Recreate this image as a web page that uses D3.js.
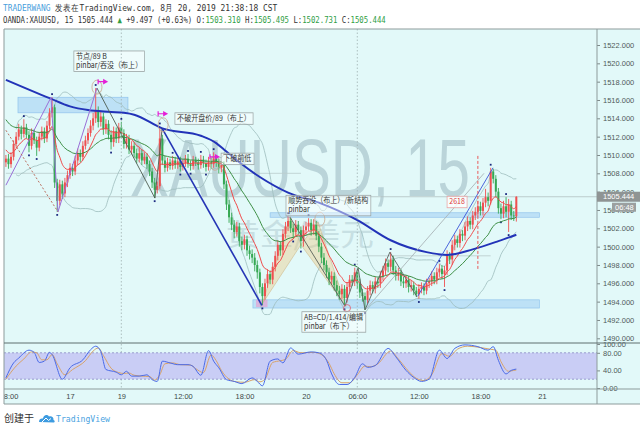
<!DOCTYPE html>
<html><head><meta charset="utf-8">
<script src="https://cdn.jsdelivr.net/npm/d3@7"></script>
<style>body{margin:0;background:#fff}svg{display:block}</style>
</head><body>
<svg id="c" width="640" height="431"></svg>
<script>
// ---------------- DATA ----------------
const firstOpen = 1509.2;
const closes = [
1509.6,1509.0,1509.8,1511.2,1512.0,1512.8,1512.3,1513.0,1512.2,1511.0,
1512.4,1511.6,1510.8,1512.0,1512.6,1511.8,1513.2,1514.6,1515.2,1507.0,
1505.0,1506.8,1505.8,1507.0,1507.8,1508.6,1508.2,1509.4,1510.2,1509.8,
1511.0,1511.6,1512.4,1513.2,1514.0,1514.8,1513.6,1514.2,1512.8,1513.4,
1512.2,1511.4,1512.6,1511.8,1513.0,1512.4,1511.2,1511.8,1510.6,1511.0,
1510.2,1509.6,1510.2,1509.4,1509.8,1509.0,1508.2,1507.0,1506.2,1506.6,
1511.8,1509.4,1508.6,1509.2,1508.8,1509.4,1508.9,1509.3,1508.7,1509.1,
1509.6,1509.0,1508.8,1509.4,1509.2,1508.9,1509.5,1509.1,1508.7,1509.3,
1509.0,1509.6,1509.2,1508.6,1508.9,1506.8,1504.6,1503.2,1502.4,1501.6,
1502.2,1500.6,1500.2,1500.8,1499.6,1499.2,1498.8,1498.0,1497.2,1495.6,
1494.6,1496.0,1497.0,1496.4,1497.8,1499.0,1500.2,1499.6,1501.4,1502.2,
1502.8,1502.0,1501.6,1502.4,1501.8,1500.6,1501.8,1502.2,1502.6,1501.8,
1502.4,1501.2,1500.0,1498.8,1498.0,1497.2,1496.4,1496.8,1495.8,1495.2,
1494.8,1495.4,1494.4,1495.6,1496.4,1496.2,1497.2,1496.0,1495.0,1494.6,
1494.2,1495.2,1495.8,1495.4,1496.2,1496.0,1496.8,1497.4,1498.2,1497.8,
1498.6,1497.4,1496.8,1497.2,1496.2,1496.0,1496.4,1495.6,1495.8,1495.2,
1494.8,1495.4,1495.6,1495.2,1496.0,1496.2,1496.8,1496.4,1497.2,1497.6,
1497.0,1497.4,1499.0,1498.6,1500.2,1500.8,1500.4,1501.4,1501.2,1502.2,
1502.8,1502.4,1503.4,1503.8,1504.4,1503.9,1504.8,1505.4,1505.0,1508.2,
1507.4,1506.0,1504.2,1503.6,1504.4,1503.8,1504.6,1503.4,1503.31,1505.444];
const highs = [
1510.0,1510.1,1510.3,1511.6,1512.5,1513.4,1513.2,1513.9,1513.4,1512.6,
1512.9,1512.8,1512.0,1512.5,1513.1,1513.0,1513.7,1515.1,1516.3,1515.5,
1507.4,1507.3,1507.2,1507.5,1508.3,1509.1,1509.0,1509.9,1510.7,1510.6,
1511.5,1512.1,1512.9,1513.8,1514.6,1517.3,1515.3,1514.8,1514.6,1513.9,
1513.8,1512.7,1513.1,1513.0,1513.5,1513.6,1512.8,1512.3,1512.2,1511.5,
1511.4,1510.7,1510.8,1510.6,1510.3,1510.2,1509.4,1508.6,1507.5,1507.1,
1513.1,1512.2,1509.9,1509.7,1509.6,1509.9,1509.8,1509.7,1509.8,1509.5,
1510.0,1510.1,1509.4,1509.9,1509.8,1509.6,1510.0,1509.9,1509.5,1509.8,
1509.7,1510.3,1510.0,1509.6,1509.3,1509.3,1507.2,1505.1,1503.7,1502.9,
1502.7,1502.6,1501.1,1501.3,1501.2,1500.1,1499.7,1499.3,1498.5,1497.6,
1496.0,1496.5,1497.5,1497.4,1498.3,1499.5,1500.7,1500.6,1501.9,1502.7,
1503.3,1503.1,1502.5,1502.9,1502.8,1502.2,1502.3,1502.7,1503.1,1503.0,
1503.0,1502.8,1501.7,1500.4,1499.3,1498.5,1497.7,1497.3,1497.2,1496.3,
1495.7,1495.9,1495.8,1496.1,1496.9,1496.9,1497.7,1497.6,1496.5,1495.4,
1495.0,1495.7,1496.3,1496.2,1496.7,1496.6,1497.3,1497.9,1498.7,1498.6,
1499.4,1499.0,1497.9,1497.7,1497.6,1496.7,1496.9,1496.8,1496.3,1496.2,
1495.6,1495.9,1496.1,1496.0,1496.5,1496.6,1497.3,1497.2,1497.7,1498.1,
1498.0,1497.9,1499.6,1499.4,1500.7,1501.3,1501.2,1501.9,1501.8,1502.7,
1503.3,1503.2,1503.9,1504.3,1505.0,1504.9,1505.3,1506.3,1505.9,1508.6,
1508.5,1507.8,1506.4,1504.7,1505.0,1505.4,1505.2,1505.0,1503.9,1505.495];
const lows = [
1508.7,1508.5,1508.6,1509.4,1510.8,1511.6,1511.7,1511.9,1511.8,1510.3,
1510.6,1511.2,1509.9,1510.4,1511.6,1511.3,1511.4,1512.8,1514.1,1506.4,
1503.8,1504.5,1505.2,1505.4,1506.5,1507.4,1507.7,1507.8,1508.9,1509.2,
1509.4,1510.6,1511.2,1512.0,1512.7,1513.5,1513.0,1513.1,1512.2,1512.3,
1511.7,1510.6,1510.9,1511.3,1511.3,1511.9,1510.7,1510.7,1510.1,1510.1,
1509.7,1509.1,1509.2,1508.9,1509.0,1508.5,1507.7,1506.4,1505.3,1505.8,
1506.3,1508.9,1508.1,1508.2,1508.4,1508.4,1508.5,1508.5,1508.2,1508.3,
1508.7,1508.6,1508.3,1508.4,1508.8,1508.4,1508.5,1508.6,1508.2,1508.3,
1508.5,1508.6,1508.7,1508.0,1508.1,1506.3,1504.0,1502.6,1501.8,1500.9,
1501.1,1500.0,1499.6,1499.7,1499.0,1498.6,1498.2,1497.3,1496.5,1494.9,
1493.6,1494.2,1495.5,1495.9,1495.9,1497.3,1498.5,1499.0,1499.1,1500.9,
1501.7,1501.5,1500.9,1501.1,1501.3,1499.8,1500.0,1501.2,1501.7,1501.2,
1501.3,1500.7,1499.4,1498.2,1497.4,1496.6,1495.8,1495.9,1495.2,1494.6,
1494.2,1494.3,1493.5,1493.9,1495.1,1495.7,1495.7,1495.4,1494.4,1494.0,
1493.1,1493.8,1494.7,1494.9,1494.9,1495.5,1495.5,1496.3,1496.9,1497.2,
1497.3,1496.9,1496.3,1496.3,1495.7,1495.5,1495.5,1495.0,1495.1,1494.7,
1494.5,1494.3,1494.9,1494.7,1494.8,1495.5,1495.7,1495.9,1495.9,1496.7,
1496.5,1495.6,1496.9,1498.1,1498.0,1499.6,1499.9,1499.9,1500.6,1500.7,
1501.7,1501.9,1501.9,1502.9,1503.3,1503.4,1503.4,1504.3,1504.4,1504.6,
1506.9,1505.4,1503.6,1503.0,1503.1,1503.2,1501.6,1502.9,1502.8,1502.731];

// slow moving average (89) read at bar positions [bar, price]
const ma89 = [[0,1518.2],[17,1516.2],[25,1515.3],[32,1514.9],[41,1514.7],[46,1514.6],[50,1514.4],
[61,1512.9],[76,1512.1],[82,1511.3],[85,1510.6],[91,1509.2],[99,1507.6],[110,1505.9],[122,1504.8],
[137,1502.9],[150,1500.7],[164,1499.4],[172,1499.1],[182,1499.7],[192,1500.6],[199,1501.3]];
const redSeed = 1510.8, greenSeed = 1514.2;

// Stoch RSI K / D  [bar, value]
const stochK = [[0,23],[3,57],[5,68],[9,86],[11,81],[13,58],[15,61],[17,81],[18,76],[22,20],[25,46],[30,64],
[33,87],[35,95],[37,83],[39,42],[43,36],[45,30],[47,38],[49,27],[52,27],[55,30],[57,19],[59,15],[61,61],
[64,57],[67,53],[71,53],[73,49],[76,29],[79,85],[81,61],[83,46],[86,19],[89,15],[92,10],[96,23],[98,15],
[100,5],[103,61],[106,66],[108,57],[111,91],[114,77],[119,82],[122,80],[125,63],[127,32],[130,8],[133,8],
[136,24],[139,55],[141,47],[144,51],[149,90],[152,71],[156,40],[159,24],[162,15],[165,20],[169,86],
[172,67],[175,90],[179,98],[184,94],[188,86],[190,94],[192,63],[195,32],[197,40],[199,43]];
const stochD = [[0,20],[4,50],[7,66],[10,82],[12,80],[14,64],[16,64],[18,76],[20,55],[23,30],[26,42],
[31,62],[34,84],[36,91],[38,74],[41,45],[44,35],[46,33],[48,34],[50,29],[53,27],[56,26],[58,18],[60,30],
[62,55],[65,57],[68,53],[72,52],[74,44],[77,35],[80,75],[82,62],[84,40],[87,20],[90,14],[93,13],[97,19],
[99,14],[101,20],[104,58],[107,62],[109,65],[112,85],[115,80],[120,81],[123,76],[126,56],[128,32],[131,12],
[134,12],[137,30],[140,50],[142,48],[145,55],[150,84],[153,66],[157,38],[160,22],[163,17],[166,30],[170,78],
[173,72],[176,88],[180,95],[185,92],[189,88],[191,86],[193,60],[196,38],[198,40],[199,41]];

const priceTicks = [1490,1492,1494,1496,1498,1500,1502,1504,1506,1508,1510,1512,1514,1516,1518,1520,1522];
const rsiTicks = [0,40,80,100];
const timeTicks = [1,25,45,69,93,117,137,161,185,209];
const timeLabels = ["18:00","17","19","12:00","18:00","20","06:00","12:00","18:00","21"];
const sessionBreaks = [45,137];
const lastPrice = 1505.444;

// user drawings, in [bar, price]
const zones = [[4.7,47.6,1516.3,1514.6],[103,208,1503.7,1503.2],[96.3,208,1494.2,1493.3]];
const pinkZone = [97.5,102,1494.2,1493.4];
const trendBlue = [[60.9,1512.9],[99.8,1493.6]];
const trendBlue2 = [[160.6,1494.6],[189.9,1508.6]];
const trendGray = [[140.4,1493.2],[186.4,1508.0]];
const purplePath = [[0,1506.7],[17.6,1516.3],[20.3,1503.8],[35.5,1517.3]];
const dashedBrown = [[0,1512.7],[20.3,1503.8]];
const darkPath = [[35.5,1517.3],[58.1,1505.3],[60.9,1512.9]];
const zigzag = [[110.8,1503.2],[132.2,1493.5],[137.3,1497.7],[140,1493.1],[149.7,1499.4],[160.3,1494.5]];
const tanTri = [[[99.8,1493.7],[110.8,1503.3],[115,1500.2]],[[115,1500.2],[121.7,1502.7],[132.6,1493.5]]];
const ellipses = [[35.5,1517.4],[61.3,1513.3],[81.5,1509.1],[122.4,1503.0]];
const pinkCircles = [[133,1493.3]];
const arrows = [[37.9,1518.0],[61.3,1514.5],[81.5,1509.8]];
const redVLine = [184,1509.9,1497.5];
const hLines = [[139,189,1499.0],[0,115,1508.0]];
const notes = [
 {b:26.5,p:1521.35,lines:["节点/89  B","pinbar/吞没（布上）"]},
 {b:65.9,p:1514.6,lines:["不破开盘价/89（布上）"]},
 {b:83.9,p:1510.2,lines:["下破前低"]},
 {b:109.2,p:1505.6,lines:["顺势吞没（布上）/新结构","pinbar"]},
 {b:115.4,p:1492.9,lines:["AB=CD/1.414/编辑","pinbar（布下）"]},
 {b:172,p:1505.5,lines:["2618"],red:true}];

// ---------------- LAYOUT ----------------
const svg = d3.select("#c");
const P = {l:4, r:597, t:29, b:343, rb:389, ab:404};
const BG = "#e2f9f9";
const x = d3.scaleLinear().domain([0,199]).range([5.9, 5.9+199*2.565]);
const y = d3.scaleLinear().domain([1490,1522]).range([338.3,45]);
const yr = d3.scaleLinear().domain([0,100]).range([388,344]);

svg.append("rect").attr("width",640).attr("height",431).attr("fill","#fff");
svg.append("rect").attr("x",P.l).attr("y",P.t).attr("width",640-P.l).attr("height",P.ab-P.t).attr("fill",BG);

const defs = svg.append("defs");
defs.append("clipPath").attr("id","cm").append("rect").attr("x",P.l).attr("y",P.t).attr("width",P.r-P.l).attr("height",P.b-P.t);
defs.append("clipPath").attr("id","cr").append("rect").attr("x",P.l).attr("y",P.b).attr("width",P.r-P.l).attr("height",P.rb-P.b);
defs.append("clipPath").attr("id","ct").append("rect").attr("x",P.l).attr("y",P.rb).attr("width",P.r-P.l).attr("height",P.ab-P.rb);

const g = svg.append("g").attr("clip-path","url(#cm)");

// watermark
g.append("text").attr("x",130).attr("y",196).attr("font-family","Liberation Sans, Arial, sans-serif")
 .attr("font-size",81).attr("textLength",340).attr("lengthAdjust","spacingAndGlyphs")
 .attr("fill","#bad4d9").text("XAUUSD, 15");
g.append("text").attr("x",226).attr("y",245).attr("font-family","Noto Sans CJK SC, sans-serif")
 .attr("font-size",30).attr("textLength",148).attr("lengthAdjust","spacingAndGlyphs")
 .attr("fill","#c7e0e3").text("黄金/美元");

// session breaks
sessionBreaks.forEach(b=>{
  svg.append("line").attr("x1",x(b)).attr("x2",x(b)).attr("y1",P.t).attr("y2",P.rb)
   .attr("stroke","#9fb0b0").attr("stroke-dasharray","1.5,2").attr("stroke-width",0.8);
});
// horizontal faint lines
hLines.forEach(h=>{
  g.append("line").attr("x1",x(h[0])).attr("x2",x(h[1])).attr("y1",y(h[2])).attr("y2",y(h[2]))
   .attr("stroke","#b9cccc").attr("stroke-width",0.8);
});
g.append("line").attr("x1",P.l).attr("x2",P.r).attr("y1",y(lastPrice)).attr("y2",y(lastPrice))
 .attr("stroke","#b3c2c2").attr("stroke-width",0.8);

// zones
zones.forEach(z=>{
  g.append("rect").attr("x",x(z[0])).attr("width",x(z[1])-x(z[0]))
   .attr("y",y(z[2])).attr("height",y(z[3])-y(z[2]))
   .attr("fill","rgba(120,180,240,0.35)").attr("stroke","rgba(100,165,230,0.55)").attr("stroke-width",0.7);
});
g.append("rect").attr("x",x(pinkZone[0])).attr("width",x(pinkZone[1])-x(pinkZone[0]))
 .attr("y",y(pinkZone[2])).attr("height",y(pinkZone[3])-y(pinkZone[2])).attr("fill","rgba(235,150,205,0.6)");

// tan harmonic fill
tanTri.forEach(t=>{
  g.append("path").attr("d",d3.line().x(d=>x(d[0])).y(d=>y(d[1]))(t)+"Z")
   .attr("fill","rgba(236,196,120,0.38)").attr("stroke","rgba(190,150,90,0.6)").attr("stroke-width",0.6);
});

// Bollinger bands (20, 2) from closes
const bbU=[], bbL=[];
closes.forEach((c,i)=>{
  if(i<4) return;
  const w = closes.slice(Math.max(0,i-19), i+1);
  const m = d3.mean(w), s = d3.deviation(w);
  bbU.push([i,m+2*s]); bbL.push([i,m-2*s]);
});
const ln = d3.line().x(d=>x(d[0])).y(d=>y(d[1])).curve(d3.curveMonotoneX);
[bbU,bbL].forEach(b=>g.append("path").attr("d",ln(b)).attr("fill","none").attr("stroke","#9dbdbd").attr("stroke-width",0.8));

// candles
const opens = closes.map((c,i)=> i? closes[i-1] : firstOpen);
const cg = g.append("g");
closes.forEach((c,i)=>{
  const o=opens[i], up=c>=o, col = up? "#ef5050" : "#35a853";
  cg.append("line").attr("x1",x(i)).attr("x2",x(i)).attr("y1",y(highs[i])).attr("y2",y(lows[i]))
    .attr("stroke",col).attr("stroke-width",0.9);
  const yt=y(Math.max(o,c)), yb=y(Math.min(o,c));
  cg.append("rect").attr("x",x(i)-1).attr("width",2).attr("y",yt).attr("height",Math.max(0.9,yb-yt)).attr("fill",col);
});

// fractal dots
for(let i=2;i<closes.length-2;i++){
  if(highs[i]>highs[i-1]&&highs[i]>highs[i-2]&&highs[i]>highs[i+1]&&highs[i]>highs[i+2])
    g.append("rect").attr("x",x(i)-0.9).attr("y",y(highs[i])-4).attr("width",1.8).attr("height",1.8).attr("fill","#1c2a80");
  if(lows[i]<lows[i-1]&&lows[i]<lows[i-2]&&lows[i]<lows[i+1]&&lows[i]<lows[i+2])
    g.append("rect").attr("x",x(i)-0.9).attr("y",y(lows[i])+2.2).attr("width",1.8).attr("height",1.8).attr("fill","#1c2a80");
}

// EMAs
function ema(arr,n,seed){const k=2/(n+1);let e=seed;return arr.map((v,i)=>[i,(e=v*k+e*(1-k))]);}
g.append("path").attr("d",ln(ema(closes,26,greenSeed))).attr("fill","none").attr("stroke","#3d8f45").attr("stroke-width",1);
g.append("path").attr("d",ln(ema(closes,9,redSeed))).attr("fill","none").attr("stroke","#f04a4a").attr("stroke-width",1);
g.append("path").attr("d",ln(ma89)).attr("fill","none").attr("stroke","#2233b8").attr("stroke-width",2);

// drawings
const pl = d3.line().x(d=>x(d[0])).y(d=>y(d[1]));
g.append("path").attr("d",pl(purplePath)).attr("fill","none").attr("stroke","#9a70d8").attr("stroke-width",1);
g.append("path").attr("d",pl(dashedBrown)).attr("fill","none").attr("stroke","#b5604f").attr("stroke-width",0.9).attr("stroke-dasharray","2,2");
g.append("path").attr("d",pl(darkPath)).attr("fill","none").attr("stroke","#4e5c50").attr("stroke-width",0.9);
g.append("path").attr("d",pl(zigzag)).attr("fill","none").attr("stroke","#58605a").attr("stroke-width",0.9);
g.append("path").attr("d",pl(trendBlue)).attr("fill","none").attr("stroke","#2535b5").attr("stroke-width",1.6);
g.append("path").attr("d",pl(trendBlue2)).attr("fill","none").attr("stroke","#3a55d8").attr("stroke-width",0.9);
g.append("path").attr("d",pl(trendGray)).attr("fill","none").attr("stroke","#a9b4b8").attr("stroke-width",0.9);
g.append("line").attr("x1",x(redVLine[0])).attr("x2",x(redVLine[0])).attr("y1",y(redVLine[1])).attr("y2",y(redVLine[2]))
 .attr("stroke","#e85a5a").attr("stroke-width",1).attr("stroke-dasharray","3,2");

ellipses.forEach(e=>g.append("ellipse").attr("cx",x(e[0])).attr("cy",y(e[1])).attr("rx",5).attr("ry",7)
 .attr("fill","none").attr("stroke","#c9a48c").attr("stroke-width",0.8));
pinkCircles.forEach(e=>g.append("circle").attr("cx",x(e[0])).attr("cy",y(e[1])).attr("r",3.5)
 .attr("fill","none").attr("stroke","#e06a7a").attr("stroke-width",0.9));
arrows.forEach(a=>{
  const ax=x(a[0]), ay=y(a[1]);
  g.append("path").attr("d",`M${ax-5},${ay-2.5}V${ay+2.5}M${ax-5},${ay}H${ax+1}`).attr("stroke","#e51fd6").attr("stroke-width",1.2);
  g.append("path").attr("d",`M${ax},${ay-2.8}L${ax+5},${ay}L${ax},${ay+2.8}Z`).attr("fill","#e51fd6");
});

// notes
notes.forEach(n=>{
  const ng = g.append("g").attr("transform",`translate(${x(n.b)},${y(n.p)}) scale(0.88,1)`);
  const r = ng.append("rect");
  const t = ng.append("text").attr("font-family","Noto Sans CJK SC, sans-serif").attr("font-size",8)
     .attr("fill", n.red? "#e03c3c" : "#333");
  n.lines.forEach((s,k)=>t.append("tspan").attr("x",2.5).attr("y",8+k*9).text(s));
  const bb = t.node().getBBox();
  r.attr("x",0).attr("y",0).attr("width",bb.width+5).attr("height",n.lines.length*9+2.5)
   .attr("fill", n.red? "rgba(255,255,255,0.75)" : "rgba(255,255,255,0.45)")
   .attr("stroke", n.red? "#eaa0a0" : "#9aa4a4").attr("stroke-width",0.8);
});

// ---------------- RSI PANE ----------------
const rg = svg.append("g").attr("clip-path","url(#cr)");
rg.append("rect").attr("x",P.l).attr("width",P.r-P.l).attr("y",yr(80)).attr("height",yr(20)-yr(80)).attr("fill","#c9cdf5");
[80,20].forEach(v=>rg.append("line").attr("x1",P.l).attr("x2",P.r).attr("y1",yr(v)).attr("y2",yr(v))
  .attr("stroke","#8a8ac4").attr("stroke-dasharray","2,2").attr("stroke-width",0.8));
const lr = d3.line().x(d=>x(d[0])).y(d=>yr(d[1])).curve(d3.curveMonotoneX);
rg.append("path").attr("d",lr(stochD)).attr("fill","none").attr("stroke","#d8a36a").attr("stroke-width",1);
rg.append("path").attr("d",lr(stochK)).attr("fill","none").attr("stroke","#4a6ae8").attr("stroke-width",1);

// ---------------- AXES ----------------
const fontAx = "Liberation Sans, Arial, sans-serif";
const ya = svg.append("g").attr("transform",`translate(${P.r},0)`)
  .call(d3.axisRight(y).tickValues(priceTicks).tickFormat(d3.format(".3f")).tickSize(3).tickPadding(3));
const ra = svg.append("g").attr("transform",`translate(${P.r},0)`)
  .call(d3.axisRight(yr).tickValues(rsiTicks).tickFormat(d3.format(".2f")).tickSize(3).tickPadding(3));
[ya,ra].forEach(a=>{
  a.select(".domain").remove();
  a.selectAll("text").attr("font-family",fontAx).attr("font-size",7.5).attr("fill","#505a5a");
  a.selectAll("line").attr("stroke","#7d8a8a");
});
const ta = svg.append("g").attr("clip-path","url(#ct)").append("g").attr("transform",`translate(0,${P.rb})`)
  .call(d3.axisBottom(x).tickValues(timeTicks).tickFormat((d,i)=>timeLabels[i]).tickSize(0).tickPadding(5));
ta.select(".domain").remove();
ta.selectAll("text").attr("font-family",fontAx).attr("font-size",7.5).attr("fill","#404848");

// frame lines
const frame = [[P.l,P.t,640,P.t],[P.l,P.t,P.l,P.ab],[P.r,P.t,P.r,P.ab],[P.l,P.b,640,P.b],[P.l,P.rb,640,P.rb],[P.l,P.ab,640,P.ab]];
frame.forEach((f,k)=>svg.append("line").attr("x1",f[0]).attr("y1",f[1]).attr("x2",f[2]).attr("y2",f[3])
  .attr("stroke", k==3? "#5f6e6e" : "#8d9b9b").attr("stroke-width",1));

// last price label & countdown
svg.append("rect").attr("x",P.r).attr("y",y(lastPrice)-5).attr("width",43).attr("height",10).attr("fill","#8f9494");
svg.append("text").attr("x",P.r+6).attr("y",y(lastPrice)+2.7).attr("font-family",fontAx).attr("font-size",7.5).attr("fill","#fff").text(d3.format(".3f")(lastPrice));
svg.append("rect").attr("x",612).attr("y",y(lastPrice)+6).attr("width",24).attr("height",9).attr("fill","#9ba0a0");
svg.append("text").attr("x",615).attr("y",y(lastPrice)+13).attr("font-family",fontAx).attr("font-size",7.5).attr("fill","#fff").text("06:48");

// ---------------- HEADER / FOOTER ----------------
const hdr1 = svg.append("g").attr("transform","translate(3,0) scale(0.83,1)")
  .attr("font-family","DejaVu Sans Mono, monospace").attr("font-size",9.5);
const h1 = hdr1.append("text").attr("x",0).attr("y",11);
h1.append("tspan").attr("fill","#4aa0dc").text("TRADERWANG");
h1.append("tspan").attr("fill","#333").text(" 发表在TradingView.com, 8月 20, 2019 21:38:18 CST");
const hdr2 = svg.append("g").attr("transform","translate(3,0) scale(0.77,1)")
  .attr("font-family","DejaVu Sans Mono, monospace").attr("font-size",9.5);
const h2 = hdr2.append("text").attr("x",0).attr("y",23.5).attr("fill","#333");
const G="#2f9e45";
[["OANDA:XAUUSD, 15 1505.444 ","#333"],["▲",G],[" +9.497 (+0.63%) O:","#333"],["1503.310",G],
 [" H:","#333"],["1505.495",G],[" L:","#333"],["1502.731",G],[" C:","#333"],["1505.444",G]]
 .forEach(s=>h2.append("tspan").attr("fill",s[1]).text(s[0]));

svg.append("text").attr("x",4).attr("y",422).attr("font-family","Noto Sans CJK SC, sans-serif").attr("font-size",10).attr("fill","#333").text("创建于");
const logo = svg.append("g").attr("transform","translate(39,413)");
logo.append("path").attr("d","M0,9 C0,6 2,5 4,5.5 C4.5,2 8,1 10,3.5 C12,2.5 15,4 14.5,7 C16,7.5 16,9 15,9.5 Z").attr("fill","#3d9be0");
logo.append("path").attr("d","M3,9 L7,5 L9.5,7.5 L12,5.5").attr("fill","none").attr("stroke","#fff").attr("stroke-width",1);
svg.append("text").attr("x",56).attr("y",421.5).attr("font-family","DejaVu Sans Mono, monospace").attr("font-size",9)
  .attr("fill","#4aa3df").attr("textLength",54).attr("lengthAdjust","spacingAndGlyphs").text("TradingView");
</script>
</body></html>
